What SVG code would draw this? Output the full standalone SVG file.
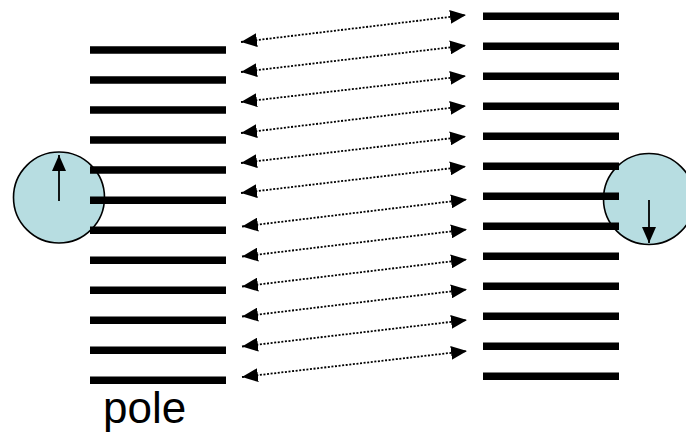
<svg xmlns="http://www.w3.org/2000/svg" width="686" height="434" viewBox="0 0 686 434">
  <style>
    .bar { stroke: #000; stroke-width: 7.5; fill: none; }
    .magnet { fill: #B7DDE1; stroke: #000; stroke-width: 1.6; }
    .spin { stroke: #000; stroke-width: 1.8; fill: none; }
    .link { stroke: #000; stroke-width: 1.8; stroke-dasharray: 2 1.6; fill: none; }
    .label { font-family: "Liberation Sans", Arial, sans-serif; font-size: 44px; fill: #000; }
  </style>
  <defs>
    <marker id="head" viewBox="0 0 16 14" refX="16" refY="7" markerWidth="16" markerHeight="14" markerUnits="userSpaceOnUse" orient="auto-start-reverse">
      <path d="M0,0 L16,7 L0,14 Z" fill="#000"/>
    </marker>
  </defs>
  <rect width="686" height="434" fill="#fff"/>

  <!-- left magnet, spin up -->
  <g id="left-magnet">
    <circle class="magnet" cx="59" cy="197.5" r="45.5"/>
    <line class="spin" x1="59" y1="201" x2="59" y2="155" marker-end="url(#head)"/>
  </g>

  <!-- right magnet, spin down -->
  <g id="right-magnet">
    <circle class="magnet" cx="649" cy="199" r="45.5"/>
    <line class="spin" x1="649" y1="200" x2="649" y2="243" marker-end="url(#head)"/>
  </g>

  <!-- left stack of plates -->
  <g id="left-stack">
    <line class="bar" x1="90" y1="50" x2="226" y2="50"/>
    <line class="bar" x1="90" y1="80" x2="226" y2="80"/>
    <line class="bar" x1="90" y1="110.1" x2="226" y2="110.1"/>
    <line class="bar" x1="90" y1="140.1" x2="226" y2="140.1"/>
    <line class="bar" x1="90" y1="170.1" x2="226" y2="170.1"/>
    <line class="bar" x1="90" y1="200.2" x2="226" y2="200.2"/>
    <line class="bar" x1="90" y1="230.2" x2="226" y2="230.2"/>
    <line class="bar" x1="90" y1="260.2" x2="226" y2="260.2"/>
    <line class="bar" x1="90" y1="290.2" x2="226" y2="290.2"/>
    <line class="bar" x1="90" y1="320.3" x2="226" y2="320.3"/>
    <line class="bar" x1="90" y1="350.3" x2="226" y2="350.3"/>
    <line class="bar" x1="90" y1="380.3" x2="226" y2="380.3"/>
  </g>

  <!-- right stack of plates -->
  <g id="right-stack">
    <line class="bar" x1="483" y1="16.2" x2="619" y2="16.2"/>
    <line class="bar" x1="483" y1="46.2" x2="619" y2="46.2"/>
    <line class="bar" x1="483" y1="76.2" x2="619" y2="76.2"/>
    <line class="bar" x1="483" y1="106.2" x2="619" y2="106.2"/>
    <line class="bar" x1="483" y1="136.2" x2="619" y2="136.2"/>
    <line class="bar" x1="483" y1="166.2" x2="619" y2="166.2"/>
    <line class="bar" x1="483" y1="196.2" x2="619" y2="196.2"/>
    <line class="bar" x1="483" y1="226.2" x2="619" y2="226.2"/>
    <line class="bar" x1="483" y1="256.2" x2="619" y2="256.2"/>
    <line class="bar" x1="483" y1="286.2" x2="619" y2="286.2"/>
    <line class="bar" x1="483" y1="316.2" x2="619" y2="316.2"/>
    <line class="bar" x1="483" y1="346.2" x2="619" y2="346.2"/>
    <line class="bar" x1="483" y1="376.2" x2="619" y2="376.2"/>
  </g>

  <!-- dotted double-headed couplings between the stacks -->
  <g id="connectors">
    <line class="link" x1="241" y1="42" x2="466" y2="15" marker-start="url(#head)" marker-end="url(#head)"/>
    <line class="link" x1="241" y1="72" x2="466" y2="45.5" marker-start="url(#head)" marker-end="url(#head)"/>
    <line class="link" x1="241" y1="102" x2="466" y2="76" marker-start="url(#head)" marker-end="url(#head)"/>
    <line class="link" x1="241" y1="133" x2="466" y2="106" marker-start="url(#head)" marker-end="url(#head)"/>
    <line class="link" x1="241" y1="163" x2="466" y2="136.5" marker-start="url(#head)" marker-end="url(#head)"/>
    <line class="link" x1="241" y1="193" x2="466" y2="166.5" marker-start="url(#head)" marker-end="url(#head)"/>
    <line class="link" x1="242" y1="226.5" x2="467" y2="199.5" marker-start="url(#head)" marker-end="url(#head)"/>
    <line class="link" x1="242" y1="256.5" x2="467" y2="229.5" marker-start="url(#head)" marker-end="url(#head)"/>
    <line class="link" x1="242" y1="286.5" x2="467" y2="259.5" marker-start="url(#head)" marker-end="url(#head)"/>
    <line class="link" x1="242" y1="316.5" x2="467" y2="289.5" marker-start="url(#head)" marker-end="url(#head)"/>
    <line class="link" x1="242" y1="346.5" x2="467" y2="320" marker-start="url(#head)" marker-end="url(#head)"/>
    <line class="link" x1="242" y1="377" x2="467" y2="351" marker-start="url(#head)" marker-end="url(#head)"/>
  </g>

  <text class="label" x="103" y="423">pole</text>
</svg>
